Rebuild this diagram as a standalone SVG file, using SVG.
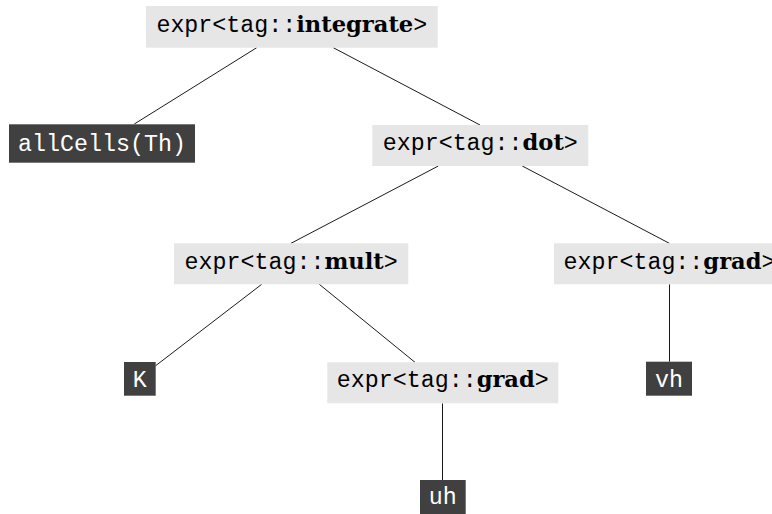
<svg xmlns="http://www.w3.org/2000/svg" width="772" height="514" viewBox="0 0 772 514">
<style>
.op rect{fill:#e6e6e6}
.leaf rect{fill:#404040}
text{font-family:"Liberation Mono","DejaVu Sans Mono",monospace;font-size:23.3px;text-anchor:middle}
.op text{fill:#000}
.leaf text{fill:#fff}
.b{font-family:"DejaVu Serif","Liberation Serif",serif;font-weight:bold;font-size:22.6px}
#edges line{stroke:#000;stroke-width:0.9}
</style>
<rect width="772" height="514" fill="#fff"/>
<g id="edges">
<line x1="256.7" y1="47.7" x2="134.3" y2="124"/>
<line x1="333.3" y1="47.7" x2="480" y2="125"/>
<line x1="438.3" y1="166" x2="291" y2="243.3"/>
<line x1="522.3" y1="166" x2="669.3" y2="243.3"/>
<line x1="261.7" y1="284.3" x2="155.7" y2="365.7"/>
<line x1="319.3" y1="284.3" x2="415" y2="362.3"/>
<line x1="442.5" y1="403.3" x2="442.5" y2="480"/>
<line x1="669.5" y1="284.3" x2="669.5" y2="361.7"/>
</g>
<g id="n-integrate" class="op"><rect x="146" y="6" width="291.7" height="41.7"/><text x="291.8" y="31.7">expr&lt;tag::<tspan class="b">integrate</tspan>&gt;</text></g>
<g id="n-allcells" class="leaf"><rect x="9" y="124.3" width="186" height="38.4"/><text x="102" y="150.7">allCells(Th)</text></g>
<g id="n-dot" class="op"><rect x="372.3" y="125" width="216" height="41"/><text x="480.3" y="150">expr&lt;tag::<tspan class="b">dot</tspan>&gt;</text></g>
<g id="n-mult" class="op"><rect x="174" y="243.3" width="234.3" height="41"/><text x="291.2" y="269">expr&lt;tag::<tspan class="b">mult</tspan>&gt;</text></g>
<g id="n-gradR" class="op"><rect x="554" y="243.3" width="231" height="41"/><text x="669.5" y="269">expr&lt;tag::<tspan class="b">grad</tspan>&gt;</text></g>
<g id="n-K" class="leaf"><rect x="124" y="362" width="31.7" height="33.7"/><text x="139.8" y="386.7">K</text></g>
<g id="n-gradM" class="op"><rect x="327.3" y="362.3" width="231" height="41"/><text x="442.8" y="387">expr&lt;tag::<tspan class="b">grad</tspan>&gt;</text></g>
<g id="n-vh" class="leaf"><rect x="646" y="361.7" width="46" height="34"/><text x="669" y="387.3">vh</text></g>
<g id="n-uh" class="leaf"><rect x="420" y="480" width="45.7" height="34"/><text x="442.8" y="504">uh</text></g>
</svg>
